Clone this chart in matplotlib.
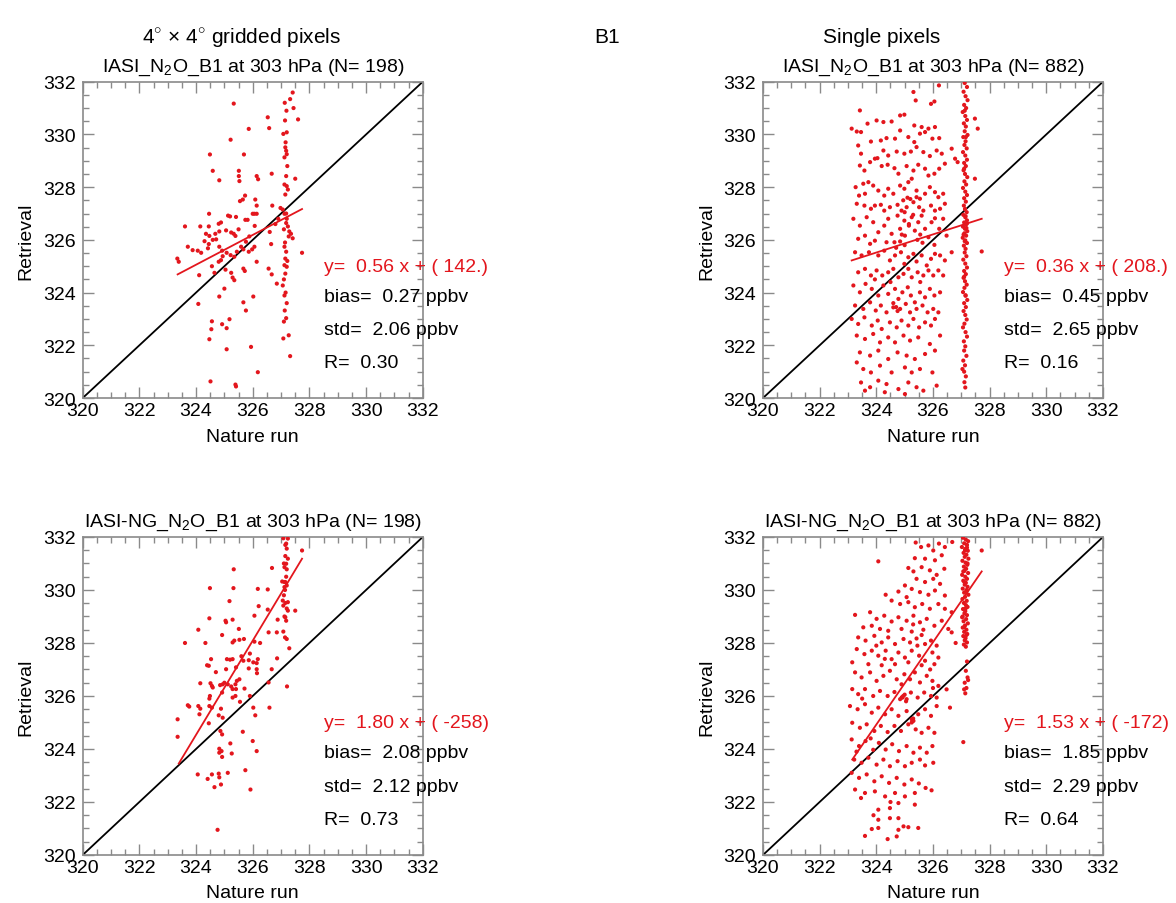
import numpy as np
import matplotlib
matplotlib.use("Agg")
from matplotlib import pyplot as plt
from matplotlib.ticker import MultipleLocator

plt.rcParams['font.family'] = ['Liberation Sans', 'DejaVu Sans']
plt.rcParams['mathtext.fontset'] = 'custom'
plt.rcParams['mathtext.rm'] = 'Liberation Sans'

RED = '#e3161d'

# ---- data (nature run, retrieval) in ppbv ----
# 4x4 gridded, IASI
grid_iasi = [
    (327.41, 331.59), (327.32, 331.34), (327.44, 331.0), (327.6, 330.57), (325.33, 331.17),
    (326.53, 330.65), (326.58, 330.24), (327.14, 330.53), (325.86, 330.21), (327.08, 330.02),
    (327.2, 330.08), (325.22, 329.8), (327.15, 329.51), (327.18, 329.38), (327.2, 329.25),
    (327.12, 329.13), (324.49, 329.24), (325.69, 329.24), (324.59, 328.62), (325.51, 328.62),
    (325.51, 328.42), (325.53, 328.23), (326.14, 328.42), (326.19, 328.3), (326.67, 328.51),
    (324.82, 328.26), (327.5, 328.32), (327.18, 328.42), (327.2, 328.04), (327.24, 327.91),
    (327.15, 327.72), (325.73, 327.68), (325.65, 327.53), (325.55, 327.47), (326.09, 327.53),
    (326.14, 327.3), (326.69, 327.3), (324.46, 326.99), (325.13, 326.92), (325.2, 326.89),
    (325.41, 326.87), (325.74, 326.76), (325.82, 326.76), (326.0, 326.99), (326.06, 326.99),
    (326.14, 326.99), (326.98, 327.21), (327.06, 327.15), (327.12, 326.99), (323.61, 326.51),
    (324.15, 326.51), (324.45, 326.51), (324.8, 326.61), (324.88, 326.66), (324.35, 326.23),
    (324.47, 326.15), (324.68, 326.23), (324.82, 326.32), (325.06, 326.36), (325.24, 326.28),
    (325.33, 326.23), (325.39, 326.15), (326.07, 326.53), (325.88, 326.13), (325.76, 325.93),
    (327.18, 326.64), (327.24, 326.51), (327.29, 326.32), (327.35, 326.23), (327.27, 326.13),
    (327.41, 326.06), (324.59, 326.0), (324.71, 326.02), (324.45, 325.84), (324.42, 325.68),
    (323.71, 325.74), (323.88, 325.61), (324.06, 325.59), (324.18, 325.51), (324.82, 325.74),
    (324.92, 325.59), (325.08, 325.51), (325.22, 325.42), (325.35, 325.36), (325.44, 325.55),
    (325.59, 325.74), (325.67, 325.64), (325.86, 325.55), (325.98, 325.64), (326.06, 325.74),
    (323.34, 325.29), (323.39, 325.17), (324.8, 325.17), (324.88, 325.23), (324.94, 325.38),
    (324.56, 325.0), (326.14, 325.17), (326.65, 325.84), (327.12, 325.74), (327.18, 325.55),
    (327.15, 325.29), (327.12, 325.04), (327.2, 324.98), (327.15, 324.72), (327.74, 325.51),
    (326.56, 324.91), (326.67, 324.69), (326.85, 324.34), (327.06, 324.27), (327.12, 323.89),
    (327.13, 323.32), (327.18, 323.03), (324.11, 324.66), (324.65, 324.75), (325.04, 324.87),
    (325.24, 324.75), (325.29, 324.57), (325.35, 324.47), (325.0, 324.15), (325.67, 324.91),
    (325.72, 324.82), (324.82, 323.85), (326.02, 323.85), (324.08, 323.57), (325.67, 323.63),
    (325.76, 323.32), (324.56, 322.91), (324.54, 322.61), (324.92, 322.8), (325.08, 322.65),
    (325.18, 322.99), (324.47, 322.23), (325.08, 321.85), (325.94, 321.94), (327.08, 322.26),
    (327.27, 322.38), (327.32, 321.59), (326.18, 320.98), (324.51, 320.63), (325.39, 320.51),
    (325.41, 320.44), (327.16, 329.7), (327.22, 328.8), (327.12, 328.1), (327.18, 327.0),
    (327.2, 326.8), (327.1, 326.4), (327.14, 325.9), (327.22, 325.2), (327.1, 324.5),
    (327.16, 324.0), (327.2, 323.6), (327.1, 322.9), (327.19, 330.9), (327.13, 331.2),
    (326.9, 326.8), (326.8, 326.6), (326.6, 326.3), (325.5, 326.4), (324.3, 325.95),
]

# single pixels, IASI : scattered cloud and the vertical strip near 327.1
single_iasi = [
    (325.31, 331.61), (325.39, 331.29), (326.05, 331.25), (325.93, 331.16), (323.42, 330.91),
    (326.21, 331.86), (323.13, 330.22), (323.31, 330.11), (323.46, 330.09), (323.69, 330.41),
    (324.01, 330.53), (324.25, 330.47), (324.54, 330.49), (324.84, 330.72), (324.99, 330.75),
    (325.34, 330.34), (325.6, 330.28), (325.84, 330.22), (326.07, 330.28), (323.36, 329.58),
    (323.81, 329.73), (324.16, 329.77), (324.36, 329.86), (324.66, 329.84), (324.84, 330.15),
    (325.13, 329.9), (325.34, 329.71), (325.54, 330.03), (325.72, 330.09), (325.98, 329.84),
    (326.22, 329.86), (326.66, 329.46), (327.48, 330.6), (327.58, 330.22), (323.46, 329.27),
    (323.95, 329.08), (324.04, 329.1), (324.25, 329.39), (324.42, 329.2), (324.72, 329.35),
    (324.99, 329.27), (325.22, 329.35), (325.42, 329.52), (325.66, 329.33), (325.89, 329.18),
    (326.13, 329.39), (326.31, 329.27), (323.42, 328.82), (323.58, 328.63), (323.78, 328.95),
    (324.19, 328.8), (324.4, 328.85), (324.64, 328.72), (324.78, 328.51), (325.07, 328.8),
    (325.31, 328.63), (325.48, 328.85), (325.72, 328.7), (325.84, 328.44), (326.05, 328.51),
    (326.22, 328.7), (326.42, 328.89), (326.78, 329.08), (326.87, 328.95), (327.48, 328.32),
    (323.27, 328.0), (323.54, 328.13), (323.72, 328.19), (323.89, 328.06), (323.39, 327.68),
    (323.6, 327.75), (324.07, 327.87), (324.28, 327.68), (324.42, 327.94), (324.6, 327.75),
    (324.84, 328.06), (324.99, 327.94), (325.13, 328.19), (325.25, 328.32), (325.42, 327.87),
    (325.54, 327.56), (325.72, 327.75), (325.89, 328.0), (326.07, 327.81), (326.19, 327.62),
    (326.36, 327.75), (323.31, 327.37), (323.58, 327.3), (323.81, 327.18), (323.95, 327.3),
    (324.16, 327.33), (324.28, 327.11), (324.48, 327.24), (324.75, 327.33), (324.89, 327.11),
    (325.07, 327.24), (325.31, 327.43), (325.42, 327.62), (325.51, 327.24), (325.66, 327.11),
    (325.93, 327.3), (326.07, 327.11), (326.25, 327.18), (326.42, 327.37), (323.19, 326.8),
    (323.42, 326.54), (323.66, 326.86), (323.89, 326.67), (324.07, 326.29), (324.28, 326.54),
    (324.42, 326.8), (324.54, 326.23), (324.75, 326.92), (324.84, 326.42), (324.99, 326.73),
    (325.01, 326.16), (325.15, 326.54), (325.25, 326.86), (325.36, 326.35), (325.48, 326.67),
    (325.6, 326.92), (325.72, 326.42), (325.84, 326.1), (325.95, 326.67), (326.07, 326.82),
    (326.22, 326.42), (326.36, 326.8), (326.48, 326.16), (323.36, 326.04), (323.6, 326.16),
    (323.78, 325.85), (323.95, 325.97), (324.36, 325.91), (324.64, 325.91), (324.84, 325.94),
    (325.63, 325.89), (326.05, 325.81), (327.72, 325.56), (323.25, 325.53), (323.48, 325.41),
    (323.74, 325.53), (324.07, 325.41), (324.28, 325.59), (324.48, 325.22), (324.66, 325.41),
    (324.87, 325.53), (324.99, 325.09), (325.13, 325.34), (325.31, 325.47), (325.42, 325.18),
    (325.6, 325.41), (325.78, 325.03), (325.93, 325.28), (326.07, 325.47), (326.25, 325.41),
    (326.42, 325.22), (326.66, 325.53), (323.36, 324.77), (323.6, 324.9), (323.81, 324.65),
    (324.01, 324.84), (324.21, 324.65), (324.42, 324.77), (324.6, 324.9), (324.78, 324.58),
    (324.96, 324.71), (325.13, 324.9), (325.25, 324.58), (325.46, 324.77), (325.66, 324.65),
    (325.84, 324.84), (326.01, 324.65), (326.19, 324.84), (326.36, 324.65), (323.19, 324.27),
    (323.42, 324.01), (323.62, 324.33), (323.84, 324.14), (324.07, 323.89), (324.25, 324.27),
    (324.42, 323.95), (324.66, 324.14), (324.78, 323.76), (324.92, 324.01), (325.11, 324.2),
    (325.22, 323.89), (325.36, 323.63), (325.54, 324.01), (325.72, 323.82), (325.89, 324.14),
    (326.05, 323.89), (326.25, 324.01), (323.25, 323.51), (323.54, 323.38), (323.78, 323.63),
    (323.98, 323.32), (324.16, 323.51), (324.36, 323.25), (324.6, 323.44), (324.84, 323.38),
    (325.04, 323.57), (325.19, 323.25), (325.42, 323.38), (325.63, 323.51), (325.81, 323.25),
    (326.01, 323.38), (326.19, 323.25), (323.13, 323.0), (323.36, 322.81), (323.58, 323.06),
    (323.84, 322.75), (324.05, 322.94), (324.19, 322.62), (324.48, 322.87), (324.72, 322.68),
    (324.89, 322.94), (325.13, 322.75), (325.31, 323.0), (325.51, 322.68), (325.72, 322.87),
    (325.93, 322.75), (326.07, 323.0), (323.31, 322.37), (323.6, 322.24), (323.89, 322.43),
    (324.13, 322.11), (324.42, 322.3), (324.66, 322.11), (324.96, 322.37), (325.19, 322.18),
    (325.48, 322.3), (325.89, 322.05), (326.25, 322.37), (323.42, 321.73), (323.78, 321.61),
    (324.07, 321.8), (324.42, 321.48), (324.75, 321.73), (325.07, 321.61), (325.36, 321.48),
    (325.72, 321.67), (326.07, 321.8), (323.31, 321.35), (323.54, 321.1), (323.81, 320.97),
    (324.13, 321.23), (324.54, 320.97), (325.01, 321.16), (325.25, 320.97), (325.54, 321.1),
    (325.98, 320.97), (323.46, 320.59), (323.78, 320.41), (324.07, 320.66), (324.36, 320.53),
    (324.78, 320.34), (325.13, 320.59), (325.42, 320.41), (325.66, 320.28), (326.13, 320.47),
    (325.01, 320.15), (324.3, 320.22), (323.6, 320.28), (324.95, 327.5), (325.1, 327.6),
    (325.2, 327.55), (325.0, 327.05), (325.3, 326.95), (325.15, 326.6), (324.9, 326.2),
    (325.45, 326.0), (325.55, 326.2), (324.7, 325.7), (325.0, 325.8), (325.55, 324.4),
    (324.6, 323.6), (324.7, 323.45), (324.75, 323.3), (324.5, 324.4), (323.95, 324.5),
]
single_iasi_strip = [
    (327.12, 331.95), (327.2, 331.8), (327.08, 331.62), (327.15, 331.45), (327.22, 331.3),
    (327.1, 331.12), (327.17, 331.0), (327.05, 330.85), (327.14, 330.7), (327.2, 330.55),
    (327.09, 330.42), (327.16, 330.3), (327.12, 330.12), (327.22, 329.98), (327.07, 329.9),
    (327.15, 329.74), (327.11, 329.6), (327.19, 329.47), (327.06, 329.33), (327.14, 329.2),
    (327.2, 329.04), (327.1, 328.92), (327.16, 328.8), (327.08, 328.64), (327.13, 328.5),
    (327.21, 328.38), (327.11, 328.22), (327.17, 328.1), (327.06, 327.97), (327.14, 327.83),
    (327.2, 327.7), (327.1, 327.58), (327.16, 327.45), (327.09, 327.3), (327.13, 327.17),
    (327.19, 327.05), (327.07, 326.95), (327.14, 326.86), (327.2, 326.74), (327.1, 326.66),
    (327.16, 326.58), (327.06, 326.5), (327.13, 326.42), (327.21, 326.33), (327.11, 326.25),
    (327.17, 326.16), (327.05, 326.08), (327.14, 325.98), (327.2, 325.88), (327.09, 325.78),
    (327.15, 325.66), (327.12, 325.52), (327.18, 325.38), (327.07, 325.25), (327.14, 325.1),
    (327.2, 324.95), (327.1, 324.82), (327.16, 324.7), (327.08, 324.56), (327.13, 324.43),
    (327.19, 324.3), (327.11, 324.18), (327.06, 324.02), (327.15, 323.88), (327.21, 323.72),
    (327.1, 323.6), (327.16, 323.45), (327.08, 323.3), (327.14, 323.15), (327.19, 322.98),
    (327.11, 322.82), (327.06, 322.68), (327.15, 322.5), (327.2, 322.33), (327.09, 322.15),
    (327.14, 321.96), (327.1, 321.8), (327.18, 321.6), (327.07, 321.42), (327.13, 321.24),
    (327.04, 321.1), (327.1, 321.0), (327.16, 320.82), (327.11, 320.6), (327.14, 320.4),
    (327.15, 326.9), (327.18, 326.45), (327.08, 326.2), (327.12, 325.95), (327.2, 326.62),
    (327.1, 328.7), (327.16, 329.9), (327.12, 330.9), (327.1, 324.6), (327.15, 323.9),
]

# 4x4 gridded, IASI-NG
grid_ng = [
    (327.08, 331.95), (327.24, 331.94), (327.18, 331.75), (327.2, 331.56), (327.74, 331.49),
    (327.15, 331.28), (327.24, 331.18), (327.18, 330.99), (327.12, 330.86), (327.2, 330.78),
    (326.68, 330.83), (325.33, 330.78), (327.12, 330.3), (327.15, 330.3), (327.2, 330.17),
    (327.12, 330.11), (327.04, 330.32), (324.49, 330.07), (325.32, 330.07), (326.18, 330.04),
    (326.53, 330.02), (325.18, 329.58), (327.06, 329.6), (327.15, 329.51), (327.24, 329.54),
    (327.08, 329.41), (327.5, 329.22), (326.21, 329.39), (326.53, 329.26), (327.24, 329.22),
    (324.47, 328.93), (325.06, 328.78), (325.04, 328.84), (325.29, 328.88), (326.06, 329.03),
    (326.88, 328.88), (327.15, 328.97), (327.18, 328.84), (324.08, 328.5), (324.92, 328.3),
    (325.51, 328.53), (326.56, 328.4), (326.85, 328.4), (327.08, 328.43), (327.14, 328.21),
    (327.2, 328.15), (323.61, 328.0), (324.33, 328.0), (325.35, 328.09), (325.53, 328.12),
    (325.69, 328.15), (325.29, 328.02), (326.06, 328.05), (326.26, 328.0), (327.29, 327.8),
    (324.53, 327.39), (324.45, 327.14), (324.39, 327.16), (325.09, 327.39), (325.2, 327.37),
    (325.29, 327.39), (325.67, 327.33), (325.86, 327.35), (326.02, 327.27), (326.18, 327.39),
    (326.14, 327.24), (326.86, 327.42), (325.06, 327.01), (325.41, 327.08), (325.86, 327.04),
    (326.14, 327.01), (326.15, 326.86), (326.67, 327.01), (325.53, 326.63), (325.44, 326.57),
    (325.39, 326.44), (324.15, 326.48), (324.51, 326.48), (324.56, 326.38), (324.59, 326.32),
    (324.85, 326.41), (324.94, 326.44), (325.12, 326.44), (325.24, 326.36), (325.71, 326.28),
    (325.29, 326.26), (325.41, 326.26), (326.56, 326.51), (327.21, 326.36), (324.49, 326.0),
    (324.47, 325.9), (324.92, 326.13), (325.29, 325.94), (325.39, 326.0), (325.55, 325.78),
    (323.71, 325.65), (323.76, 325.6), (324.08, 325.62), (324.15, 325.52), (324.12, 325.31),
    (324.47, 325.62), (324.56, 325.56), (324.88, 325.52), (326.02, 325.56), (326.59, 325.56),
    (326.09, 325.27), (323.35, 325.12), (324.8, 325.27), (324.94, 325.18), (324.45, 324.97),
    (325.65, 324.65), (324.86, 324.68), (324.92, 324.55), (323.35, 324.46), (326.0, 324.3),
    (325.21, 324.21), (324.82, 324.01), (324.9, 323.92), (324.82, 323.86), (325.26, 323.83),
    (326.14, 323.92), (324.92, 323.7), (325.74, 323.2), (324.06, 323.04), (324.56, 323.04),
    (324.8, 323.07), (325.12, 323.1), (324.82, 322.93), (324.41, 322.87), (324.88, 322.66),
    (324.65, 322.56), (325.92, 322.47), (324.76, 320.95), (327.15, 331.7), (327.1, 331.0),
    (327.18, 330.5), (327.14, 330.0), (327.1, 329.8), (327.2, 329.3), (327.12, 329.0),
    (325.6, 327.5), (325.9, 327.6), (324.7, 326.9), (325.0, 326.5), (325.9, 326.0),
]

# single pixels, IASI-NG
single_ng = [
    (325.39, 331.79), (325.58, 331.62), (325.84, 331.68), (326.01, 331.49), (326.21, 331.75),
    (326.42, 331.62), (326.68, 331.81), (324.07, 331.08), (325.36, 331.2), (325.72, 331.18),
    (326.07, 331.12), (326.31, 331.31), (327.72, 331.49), (325.13, 330.83), (325.31, 330.7),
    (325.6, 330.86), (325.89, 330.74), (326.13, 330.57), (326.4, 330.8), (325.42, 330.42),
    (325.72, 330.3), (326.01, 330.42), (326.25, 330.23), (325.01, 330.17), (324.78, 329.94),
    (325.25, 330.04), (324.33, 329.82), (325.54, 329.92), (325.84, 329.82), (326.07, 329.98),
    (326.42, 329.79), (325.07, 329.73), (324.54, 329.6), (324.84, 329.47), (325.13, 329.54),
    (325.36, 329.35), (325.62, 329.47), (325.89, 329.29), (326.19, 329.47), (326.42, 329.29),
    (326.66, 329.16), (323.25, 329.06), (323.78, 329.16), (324.01, 328.91), (324.28, 329.03),
    (324.54, 328.81), (324.78, 328.97), (325.07, 328.84), (325.31, 329.03), (325.54, 328.78),
    (325.78, 328.91), (326.05, 328.65), (326.31, 328.84), (326.54, 328.53), (323.54, 328.59),
    (323.84, 328.65), (324.13, 328.53), (324.42, 328.46), (324.89, 328.53), (325.25, 328.43),
    (325.66, 328.5), (323.36, 328.21), (323.62, 328.09), (323.93, 328.27), (324.19, 328.02),
    (324.42, 328.21), (324.66, 327.96), (324.96, 328.15), (325.19, 328.02), (325.42, 328.17),
    (325.72, 327.96), (325.93, 328.09), (326.13, 327.9), (323.31, 327.77), (323.58, 327.58),
    (323.84, 327.71), (324.07, 327.52), (324.33, 327.71), (324.54, 327.39), (324.78, 327.64),
    (325.01, 327.45), (325.25, 327.71), (325.51, 327.52), (325.72, 327.33), (325.98, 327.64),
    (326.19, 327.45), (323.15, 327.27), (323.72, 327.2), (324.19, 327.16), (324.66, 327.2),
    (325.13, 327.27), (325.6, 327.16), (326.05, 327.2), (323.25, 326.89), (323.48, 326.7),
    (323.78, 326.89), (324.01, 326.57), (324.25, 326.76), (324.48, 326.95), (324.72, 326.63),
    (324.89, 326.44), (324.99, 326.82), (325.19, 326.63), (325.36, 326.89), (325.54, 326.51),
    (325.78, 326.76), (325.98, 326.57), (326.19, 326.38), (326.48, 326.25), (323.15, 326.26),
    (323.36, 326.07), (323.6, 326.26), (323.89, 326.0), (324.13, 326.19), (324.4, 326.0),
    (324.64, 326.15), (324.92, 325.94), (324.95, 326.0), (324.84, 325.88), (325.07, 325.88),
    (325.22, 326.13), (325.46, 325.94), (325.69, 326.13), (325.93, 326.0), (326.13, 325.94),
    (323.07, 325.62), (323.34, 325.5), (323.6, 325.69), (323.84, 325.37), (324.07, 325.56),
    (324.31, 325.31), (324.54, 325.5), (324.78, 325.25), (325.07, 325.43), (325.25, 325.12),
    (325.31, 325.06), (325.48, 325.31), (325.72, 325.5), (325.93, 325.25), (326.13, 325.62),
    (326.6, 325.56), (323.15, 324.99), (323.42, 324.8), (323.66, 324.93), (323.93, 324.68),
    (324.16, 324.87), (324.4, 324.64), (324.64, 324.87), (324.87, 324.68), (325.13, 324.93),
    (325.39, 324.74), (325.6, 324.61), (325.84, 324.8), (326.05, 324.61), (323.13, 324.36),
    (323.39, 324.11), (323.62, 324.3), (323.89, 323.97), (324.09, 324.23), (324.33, 323.98),
    (324.56, 324.18), (324.8, 323.92), (325.07, 324.11), (325.31, 323.86), (325.54, 324.05),
    (325.78, 323.86), (325.98, 324.11), (327.07, 324.26), (323.22, 323.6), (323.48, 323.48),
    (323.72, 323.67), (324.01, 323.41), (324.25, 323.6), (324.48, 323.35), (324.75, 323.54),
    (325.01, 323.35), (325.25, 323.48), (325.54, 323.6), (325.72, 323.38), (326.01, 323.48),
    (323.13, 323.1), (323.39, 322.91), (323.66, 323.04), (323.93, 322.78), (324.19, 322.97),
    (324.45, 322.72), (324.72, 322.91), (324.99, 322.66), (325.25, 322.85), (325.74, 322.53),
    (325.95, 322.44), (323.25, 322.47), (323.6, 322.34), (323.95, 322.4), (324.31, 322.21),
    (324.66, 322.34), (325.01, 322.21), (325.36, 322.34), (323.46, 322.15), (324.07, 321.71),
    (324.48, 321.77), (324.78, 321.96), (325.36, 321.9), (324.07, 321.33), (324.48, 321.39),
    (323.84, 320.98), (324.07, 321.02), (324.78, 320.95), (324.96, 321.08), (325.13, 321.05),
    (323.6, 320.72), (324.4, 320.6), (324.72, 320.7), (325.48, 321.02), (324.78, 321.39),
    (325.0, 326.05), (324.9, 325.95), (325.05, 325.8), (325.3, 325.15), (325.25, 325.0),
    (325.45, 327.9), (325.6, 328.3), (325.3, 328.7), (325.9, 327.0), (326.0, 326.3),
    (324.3, 327.4), (324.0, 327.9), (323.5, 325.9), (323.8, 324.4), (323.3, 323.9),
    (326.66, 328.4), (326.8, 328.0), (324.5, 322.0), (323.9, 321.5), (325.5, 322.7),
]
single_ng_strip = [
    (327.06, 331.97), (327.16, 331.9), (327.24, 331.84), (327.1, 331.76), (327.2, 331.7),
    (327.02, 331.62), (327.14, 331.55), (327.23, 331.48), (327.08, 331.4), (327.18, 331.33),
    (327.12, 331.25), (327.25, 331.18), (327.04, 331.1), (327.15, 331.03), (327.21, 330.95),
    (327.09, 330.88), (327.17, 330.8), (327.11, 330.72), (327.24, 330.64), (327.03, 330.57),
    (327.14, 330.5), (327.2, 330.42), (327.07, 330.35), (327.16, 330.27), (327.12, 330.2),
    (327.22, 330.12), (327.05, 330.05), (327.18, 329.97), (327.1, 329.9), (327.25, 329.82),
    (327.13, 329.74), (327.04, 329.66), (327.19, 329.59), (327.09, 329.51), (327.16, 329.43),
    (327.22, 329.36), (327.06, 329.28), (327.14, 329.2), (327.11, 329.12), (327.2, 329.05),
    (327.03, 328.97), (327.17, 328.9), (327.08, 328.82), (327.23, 328.74), (327.13, 328.66),
    (327.05, 328.58), (327.18, 328.5), (327.1, 328.42), (327.21, 328.34), (327.07, 328.26),
    (327.15, 328.18), (327.12, 328.1), (327.2, 328.02), (327.09, 327.94), (327.16, 327.86),
    (327.13, 331.5), (327.07, 330.7), (327.19, 330.0), (327.15, 329.3), (327.1, 328.6),
    (327.22, 331.0), (327.05, 329.0), (327.18, 328.3), (327.11, 330.3), (327.2, 331.6),
    (327.16, 326.95), (327.22, 326.7), (327.12, 326.5), (327.18, 326.3), (327.14, 326.1),
    (327.2, 327.3), (327.1, 326.25), (327.24, 326.6),
]

panel_pts = [grid_iasi, single_iasi + single_iasi_strip, grid_ng, single_ng + single_ng_strip]

# regression lines as drawn (end points)
fit_x = [(323.35, 327.74), (323.13, 327.72), (323.39, 327.74), (323.15, 327.72)]
fit_y = [(324.69, 327.17), (325.22, 326.80), (323.45, 331.18), (323.60, 330.70)]

titles = [r'IASI_N$_2$O_B1 at 303 hPa (N= 198)',
          r'IASI_N$_2$O_B1 at 303 hPa (N= 882)',
          r'IASI-NG_N$_2$O_B1 at 303 hPa (N= 198)',
          r'IASI-NG_N$_2$O_B1 at 303 hPa (N= 882)']
fit_text = ['y=  0.56 x + ( 142.)', 'y=  0.36 x + ( 208.)',
            'y=  1.80 x + ( -258)', 'y=  1.53 x + ( -172)']
bias = ['0.27', '0.45', '2.08', '1.85']
std = ['2.06', '2.65', '2.12', '2.29']
corr = ['0.30', '0.16', '0.73', '0.64']

# axes rectangles in figure fraction
rects = [[0.0703, 0.5586, 0.2892, 0.3499],
         [0.6488, 0.5586, 0.2891, 0.3499],
         [0.0703, 0.0531, 0.2892, 0.3518],
         [0.6488, 0.0531, 0.2891, 0.3518]]

fig = plt.figure(figsize=(11.76, 9.04), dpi=100)

for k in range(4):
    ax = fig.add_axes(rects[k])
    pts = np.array(panel_pts[k])
    ax.scatter(pts[:, 0], pts[:, 1], s=9, color=RED, edgecolors='none', zorder=3)
    ax.plot([320, 332], [320, 332], color='black', lw=1.3, zorder=2)
    ax.plot(fit_x[k], fit_y[k], color=RED, lw=1.3, zorder=4)
    ax.set_xlim(320, 332)
    ax.set_ylim(320, 332)
    ax.xaxis.set_major_locator(MultipleLocator(2))
    ax.yaxis.set_major_locator(MultipleLocator(2))
    ax.xaxis.set_minor_locator(MultipleLocator(0.5))
    ax.yaxis.set_minor_locator(MultipleLocator(0.5))
    ax.tick_params(which='both', direction='in', top=True, right=True,
                   color='#8a8a8a', labelsize=14)
    ax.tick_params(axis='y', pad=5)
    ax.tick_params(axis='x', pad=3)
    ax.tick_params(which='major', length=8, width=1)
    ax.tick_params(which='minor', length=4, width=1)
    for sp in ax.spines.values():
        sp.set_color('#8a8a8a')
        sp.set_linewidth(1.2)
    ax.set_xlabel('Nature run', fontsize=14, labelpad=6)
    ax.set_ylabel('Retrieval', fontsize=14, labelpad=6)
    ax.set_title(titles[k], fontsize=14, pad=8)

    tx = 328.5
    ax.text(tx, 325.0, fit_text[k], color=RED, fontsize=14, va='center', clip_on=False)
    ax.text(tx, 323.85, 'bias=  %s ppbv' % bias[k], fontsize=14, va='center', clip_on=False)
    ax.text(tx, 322.6, 'std=  %s ppbv' % std[k], fontsize=14, va='center', clip_on=False)
    ax.text(tx, 321.35, 'R=  %s' % corr[k], fontsize=14, va='center', clip_on=False)

fig.text(0.205, 0.958, r'4$^{\circ}$ $\times$ 4$^{\circ}$ gridded pixels', ha='center',
         va='center', fontsize=15)
fig.text(0.516, 0.958, 'B1', ha='center', va='center', fontsize=15)
fig.text(0.75, 0.958, 'Single pixels', ha='center', va='center', fontsize=15)

fig.savefig('out.png', dpi=100)
